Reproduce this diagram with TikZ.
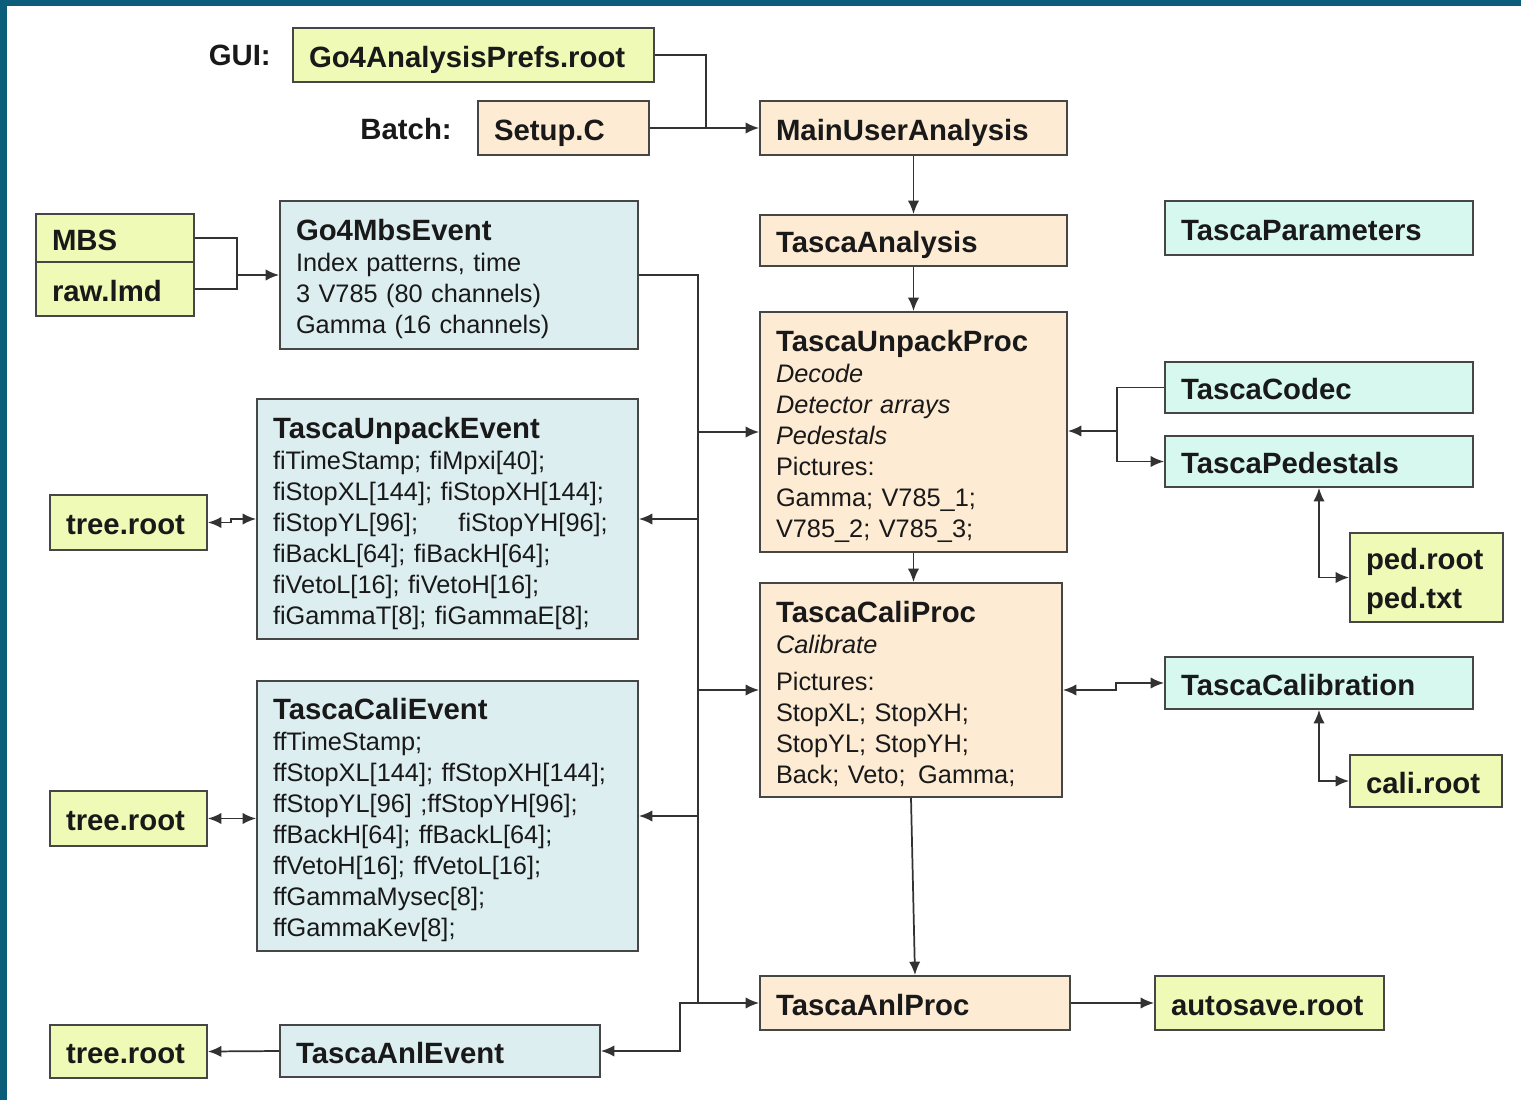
\documentclass[tikz,border=0pt]{standalone}
\usepackage{fontspec}
\setmainfont[Ligatures=NoCommon]{Liberation Sans}
\usetikzlibrary{arrows.meta}
\definecolor{frame}{RGB}{10,94,122}
\definecolor{gfill}{RGB}{239,250,183}
\definecolor{pfill}{RGB}{253,235,212}
\definecolor{bfill}{RGB}{221,238,241}
\definecolor{mfill}{RGB}{214,248,238}
\definecolor{edge}{RGB}{70,70,70}
\definecolor{wire}{RGB}{50,50,50}
\definecolor{ink}{RGB}{25,25,25}
\newcommand\tfont{\fontsize{22}{26}\selectfont\bfseries}
\newcommand\bfont{\fontsize{19}{23.25}\selectfont}
\newcommand\tl{\rule{0pt}{22pt}}
\begin{document}
\begin{tikzpicture}[x=0.75pt,y=-0.75pt,
  box/.style={draw=edge, line width=1.5pt, rectangle, align=left, inner xsep=12pt, inner ysep=2pt, text=ink},
  one/.style={text height=19pt, text depth=0.5pt},
  gbox/.style={box, fill=gfill, font=\tfont},
  pbox/.style={box, fill=pfill, font=\tfont, one},
  mbox/.style={box, fill=mfill, font=\tfont, one},
  ebox/.style={box, fill=bfill, font=\bfont},
  etbox/.style={box, fill=bfill, font=\tfont, one},
  pmbox/.style={box, fill=pfill, font=\bfont},
  lab/.style={font=\tfont, text=ink, inner sep=0pt},
  wire/.style={draw=wire, line width=1.3pt},
  arr/.style={wire, -{Latex[length=10pt,width=8.5pt]}},
  darr/.style={wire, {Latex[length=10pt,width=8.5pt]}-{Latex[length=10pt,width=8.5pt]}}]
\useasboundingbox (0,0) rectangle (1521,1100);
\fill[white] (0,0) rectangle (1521,1100);
\fill[frame] (0,0) rectangle (1521,6);
\fill[frame] (0,0) rectangle (7,1100);

% top
\node[lab, anchor=east] (gui) at (271,55) {GUI:};
\node[lab, anchor=east] (batch) at (452,129) {Batch:};
\node[gbox, one, text width=246.75pt, minimum height=40.5pt] (prefs) at (473.5,55) {Go4AnalysisPrefs.root};
\node[pbox, text width=104.25pt, minimum height=40.5pt] (setup) at (563.5,128) {Setup.C};
\node[pbox, text width=206.25pt, minimum height=40.5pt] (main) at (913.5,128) {MainUserAnalysis};
\node[pbox, text width=206.25pt, minimum height=38.25pt] (tanal) at (913.5,240.5) {TascaAnalysis};
\node[mbox, text width=207pt, minimum height=40.5pt] (tparam) at (1319,228) {TascaParameters};

% MBS
\node[gbox, one, text width=94.5pt, minimum height=36pt] (mbs) at (115,238) {MBS};
\node[gbox, one, text width=94.5pt, minimum height=40.5pt] (raw) at (115,289) {raw.lmd};
\node[ebox, text width=244.5pt, minimum height=111pt] (go4mbs) at (459,275)
  {{\tfont\tl Go4MbsEvent}\\Index patterns, time\\3 V785 (80 channels)\\Gamma (16 channels)};

% unpack
\node[pmbox, text width=206.25pt, minimum height=180pt] (unpackproc) at (913.5,432)
  {{\tfont\tl TascaUnpackProc}\\\textit{Decode}\\\textit{Detector arrays}\\\textit{Pedestals}\\Pictures:\\Gamma; V785\_1;\\V785\_2; V785\_3;};
\node[ebox, text width=261.75pt, minimum height=180pt] (unpackevt) at (447.5,519)
  {{\tfont\tl TascaUnpackEvent}\\fiTimeStamp; fiMpxi[40];\\fiStopXL[144]; fiStopXH[144];\\fiStopYL[96];\hspace{24pt} fiStopYH[96];\\fiBackL[64]; fiBackH[64];\\fiVetoL[16]; fiVetoH[16];\\fiGammaT[8]; fiGammaE[8];};
\node[gbox, one, text width=93.75pt, minimum height=41.25pt] (tree1) at (128.5,522.5) {tree.root};
\node[mbox, text width=207pt, minimum height=38.25pt] (codec) at (1319,387.5) {TascaCodec};
\node[mbox, text width=207pt, minimum height=38.25pt] (peds) at (1319,461.5) {TascaPedestals};
\node[gbox, text width=90.75pt, minimum height=66.75pt] (pedroot) at (1426.5,577.5) {\tl ped.root\\[3pt]ped.txt};

% cali
\node[pmbox, text width=202.5pt, minimum height=160.5pt] (caliproc) at (911,690)
  {{\tfont\tl TascaCaliProc}\\\textit{Calibrate}\\[5pt]Pictures:\\StopXL; StopXH;\\StopYL; StopYH;\\Back; Veto;\, Gamma;};
\node[mbox, text width=207pt, minimum height=39pt] (calib) at (1319,683) {TascaCalibration};
\node[gbox, one, text width=90pt, minimum height=39pt] (caliroot) at (1426,781) {cali.root};
\node[ebox, text width=261.75pt, minimum height=202.5pt] (calievt) at (447.5,816)
  {{\tfont\tl TascaCaliEvent}\\ffTimeStamp;\\ffStopXL[144]; ffStopXH[144];\\ffStopYL[96] ;ffStopYH[96];\\ffBackH[64]; ffBackL[64];\\ffVetoH[16]; ffVetoL[16];\\ffGammaMysec[8];\\ffGammaKev[8];};
\node[gbox, one, text width=93.75pt, minimum height=41.25pt] (tree2) at (128.5,818.5) {tree.root};

% anl
\node[pbox, text width=208.5pt, minimum height=40.5pt] (anlproc) at (915,1003) {TascaAnlProc};
\node[gbox, one, text width=147.75pt, minimum height=40.5pt] (autosave) at (1269.5,1003) {autosave.root};
\node[etbox, text width=216pt, minimum height=39pt] (anlevt) at (440,1051) {TascaAnlEvent};
\node[gbox, one, text width=93.75pt, minimum height=39.75pt] (tree3) at (128.5,1051.5) {tree.root};

% junction coordinates
\coordinate (j1) at (706,128);
\coordinate (j2) at (237,275);
\coordinate (b0) at (698,275);
\coordinate (b1) at (698,1003);
\coordinate (b2) at (680,1003);
\coordinate (c1) at (1117,431);

% connectors
\draw[wire] (prefs.east) -| (j1);
\draw[arr] (setup.east) -- (main.west);
\draw[arr] (main.south) -- (tanal.north);
\draw[arr] (tanal.south) -- (unpackproc.north);
\draw[wire] (mbs.east) -| (j2);
\draw[wire] (raw.east) -| (j2);
\draw[arr] (j2) -- (go4mbs.west);
\draw[wire] (go4mbs.east) -- (b0) -- (b1);
\draw[arr] (b0 |- unpackproc.west) -- (unpackproc.west);
\draw[arr] (b0 |- unpackevt.east) -- (unpackevt.east);
\draw[arr] (b0 |- caliproc.west) -- (caliproc.west);
\draw[arr] (b0 |- calievt.east) -- (calievt.east);
\draw[arr] (b1) -- (anlproc.west);
\draw[arr] (b1) -- (b2) |- (anlevt.east);
\draw[darr] (tree1.east) -- ++(23,0) |- (unpackevt.west);
\draw[darr] (tree2.east) -- (calievt.west |- tree2.east);
\draw[arr] (anlevt.west) -- (tree3.east);
\draw[wire] (codec.west) -| (c1);
\draw[arr] (c1) |- (peds.west);
\draw[arr] (c1) -- (unpackproc.east |- c1);
\draw[darr] (peds.south) |- (pedroot.west);
\draw[arr] (unpackproc.south) -- (unpackproc.south |- caliproc.north);
\draw[darr] (caliproc.east) -- ++(53,0) |- (calib.west);
\draw[darr] (calib.south) |- (caliroot.west);
\draw[arr] (caliproc.south) -- (anlproc.north);
\draw[arr] (anlproc.east) -- (autosave.west);
\end{tikzpicture}
\end{document}
